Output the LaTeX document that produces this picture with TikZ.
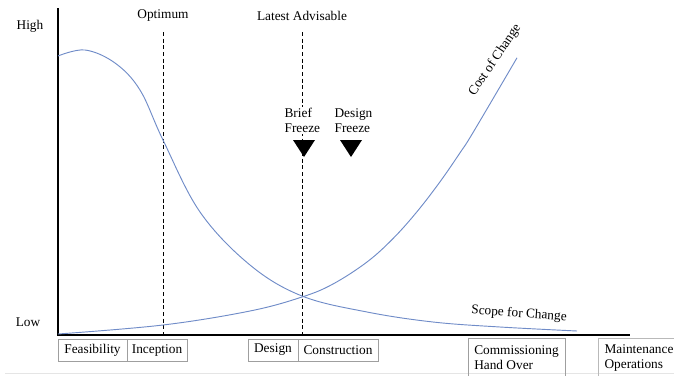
\documentclass[tikz,border=0pt]{standalone}
\usepackage{fontspec}
\setmainfont{Liberation Serif}
\usetikzlibrary{positioning}
\definecolor{curveblue}{RGB}{112,140,200}
\tikzset{
  stagebox/.style={draw=gray!75, line width=0.6pt, minimum height=16.5pt, inner sep=2pt, outer sep=0pt},
  gate/.style={dashed, dash pattern=on 3pt off 2pt, line width=0.7pt},
  trend/.style={curveblue, line width=0.7pt}
}
\begin{document}
\begin{tikzpicture}[x=0.75pt,y=-0.75pt,font=\fontsize{10}{11.25}\selectfont]
\useasboundingbox (0,0) rectangle (674,375);
\draw[gray!20, line width=0.6pt] (5,373) -- (674,373);
% axes
\coordinate (ytop) at (58,8);
\coordinate (origin) at (58,335);
\coordinate (xend) at (630,335);
\draw[line width=1.6pt] (ytop) -- (origin) -- (xend);
\node (high) at (30,26) {High};
\node (low) at (28,322) {Low};
% gates
\node (optimum) at (163,16) {Optimum};
\node (latest) at (302,16) {Latest Advisable};
\coordinate (opttop) at (163,32); \coordinate (optbot) at (163,335);
\coordinate (lattop) at (302,32); \coordinate (latbot) at (302,335);
\draw[gate] (opttop) -- (optbot);
\draw[gate] (lattop) -- (latbot);
% freezes
\node[anchor=west, align=left, inner sep=1pt, fill=white] (brief) at (283,120.5) {Brief\\Freeze};
\node[anchor=west, align=left, inner sep=1pt, fill=white] (design) at (333,120.5) {Design\\Freeze};
\fill (293,140) -- (315,140) -- (304,157) -- cycle;
\fill (340,140) -- (362,140) -- (351,157) -- cycle;
% curves
\draw[trend] plot[smooth, tension=0.6] coordinates {(58,56) (85,50) (115,63) (140,90) (163,140) (200,212) (250,265) (302,296) (367,312) (433,322) (500,327) (577,331)};
\draw[trend] plot[smooth, tension=0.6] coordinates {(58,334) (163,325) (250,311) (302,297) (333,284) (367,262) (393,238.6) (417,211.7) (440,181.8) (460,152.8) (473,132.6) (517,57.8)};
\node[rotate=56] (cost) at (495,60) {Cost of Change};
\node[rotate=-4] (scope) at (519,314) {Scope for Change};
% stages
\node[stagebox, minimum width=51.75pt, anchor=north west] (feas) at (58,339) {Feasibility};
\node[stagebox, minimum width=45pt, right=0pt of feas] (incep) {Inception};
\node[stagebox, minimum width=37.5pt, anchor=north west] (des) at (248,339) {Design};
\node[stagebox, minimum width=60pt, right=0pt of des] (constr) {Construction};
\node[stagebox, minimum width=72.75pt, minimum height=30pt, align=left, anchor=north west] (comm) at (468,338) {Commissioning\\Hand Over};
\node[stagebox, draw=gray!55, minimum width=61.5pt, minimum height=30pt, align=left, anchor=north west] (maint) at (598,338) {Maintenance\\Operations};
\end{tikzpicture}
\end{document}
